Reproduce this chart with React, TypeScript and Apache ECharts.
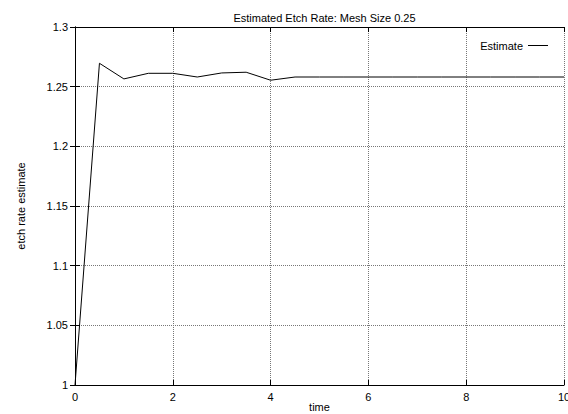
import React, { useEffect, useRef } from "react";
import * as echarts from "echarts";

// Sampled estimate of the etch rate over time
const times = [0, 0.5, 1, 1.5, 2, 2.5, 3, 3.5, 4, 4.5, 5, 5.5, 6, 6.5, 7, 7.5, 8, 8.5, 9, 9.5, 10];
const estimates = [
  1.0, 1.2696, 1.2565, 1.2612, 1.2612, 1.2581, 1.2615, 1.2621, 1.2554, 1.2581,
  1.2581, 1.2581, 1.2581, 1.2581, 1.2581, 1.2581, 1.2581, 1.2581, 1.2581, 1.2581, 1.2581,
];

const titleText = "Estimated Etch Rate: Mesh Size 0.25";
const seriesName = "Estimate";
const xName = "time";
const yName = "etch rate estimate";

const FONT = "'Liberation Sans', Arial, Helvetica, sans-serif";

export default function App() {
  const ref = useRef<HTMLDivElement>(null);

  useEffect(() => {
    document.body.style.margin = "0";
    if (!ref.current) return;
    const chart = echarts.init(ref.current, null, { renderer: "svg" });

    const gridLeft = 75;
    const gridRight = 4;
    const plotCenter = gridLeft + (568 - gridLeft - gridRight) / 2;

    const mirrorTick = { show: true, inside: true, length: 5, lineStyle: { color: "#000", width: 1 } };
    const axisLine = { show: true, lineStyle: { color: "#000", width: 1 } };
    const dotted = { show: true, lineStyle: { color: "#777", type: "dotted" as const, width: 1 } };

    chart.setOption({
      animation: false,
      backgroundColor: "#fff",
      textStyle: { fontFamily: FONT },
      title: {
        text: titleText,
        left: plotCenter,
        textAlign: "center",
        top: 7,
        textStyle: { fontSize: 11, fontWeight: "normal", color: "#000", fontFamily: FONT },
      },
      legend: {
        data: [{ name: seriesName, icon: "rect" }],
        right: 15,
        top: 35,
        align: "right",
        itemWidth: 20,
        itemHeight: 1,
        itemStyle: { color: "#000", borderWidth: 0 },
        textStyle: { fontSize: 11, color: "#000", fontFamily: FONT },
      },
      grid: {
        left: gridLeft,
        right: gridRight,
        top: 27,
        bottom: 29,
        containLabel: false,
        outerBoundsMode: "none",
      },
      xAxis: [
        {
          type: "value",
          min: 0,
          max: 10,
          interval: 2,
          position: "bottom",
          name: xName,
          nameLocation: "middle",
          nameGap: 16,
          nameMoveOverlap: false,
          nameTextStyle: { fontSize: 11, color: "#000", fontFamily: FONT },
          axisLine,
          axisTick: mirrorTick,
          axisLabel: { fontSize: 11, color: "#000", margin: 6, fontFamily: FONT },
          splitLine: dotted,
        },
        {
          type: "value",
          min: 0,
          max: 10,
          interval: 2,
          position: "top",
          axisLine,
          axisTick: mirrorTick,
          axisLabel: { show: false },
          splitLine: { show: false },
        },
      ],
      yAxis: [
        {
          type: "value",
          min: 1,
          max: 1.3,
          interval: 0.05,
          position: "left",
          name: yName,
          nameLocation: "middle",
          nameGap: 49,
          nameMoveOverlap: false,
          nameTextStyle: { fontSize: 11, color: "#000", fontFamily: FONT },
          axisLine,
          axisTick: mirrorTick,
          axisLabel: {
            fontSize: 11,
            color: "#000",
            margin: 7,
            fontFamily: FONT,
            formatter: (v: number) => String(+v.toFixed(2)),
          },
          splitLine: dotted,
        },
        {
          type: "value",
          min: 1,
          max: 1.3,
          interval: 0.05,
          position: "right",
          axisLine,
          axisTick: mirrorTick,
          axisLabel: { show: false },
          splitLine: { show: false },
        },
      ],
      series: [
        {
          name: seriesName,
          type: "line",
          xAxisIndex: 0,
          yAxisIndex: 0,
          symbol: "none",
          lineStyle: { color: "#000", width: 1 },
          itemStyle: { color: "#000" },
          data: times.map((t, i) => [t, estimates[i]]),
        },
      ],
    });

    return () => chart.dispose();
  }, []);

  return <div ref={ref} style={{ width: 568, height: 414 }} />;
}
